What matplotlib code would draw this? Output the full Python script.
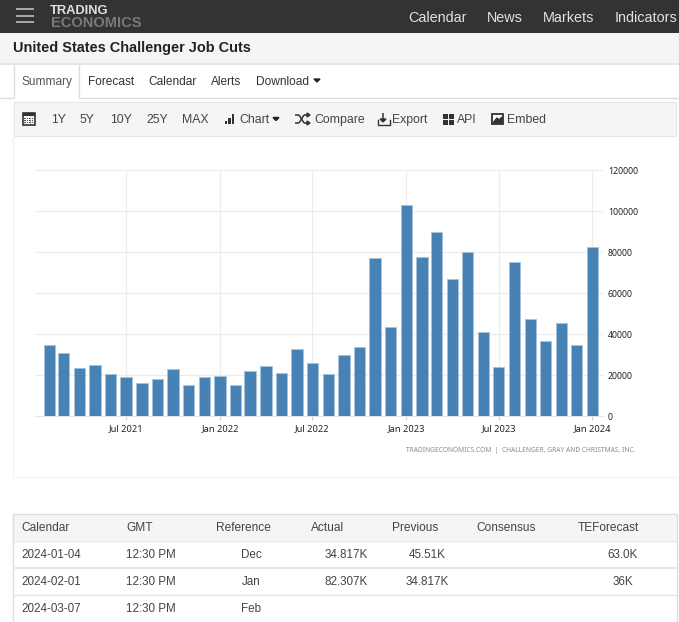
import matplotlib
matplotlib.use("Agg")
import pandas as pd
import matplotlib.dates as mdates
from matplotlib import pyplot as plt
from matplotlib.patches import Rectangle

months = pd.date_range("2021-02-01", "2024-01-01", freq="MS")
job_cuts = [34600, 30900, 23200, 24800, 20600, 19200, 16100, 18000, 22900, 14900,
            19200, 19500, 15300, 21800, 24300, 21100, 32800, 26000, 20600, 30000,
            33900, 77000, 43700, 103100, 77800, 89700, 67000, 80000, 41000, 24000,
            75200, 47400, 36800, 45500, 34817, 82307]
x_ticks = ["2021-07-01", "2022-01-01", "2022-07-01", "2023-01-01", "2023-07-01", "2024-01-01"]
x_labels = ["Jul 2021", "Jan 2022", "Jul 2022", "Jan 2023", "Jul 2023", "Jan 2024"]
y_ticks = [0, 20000, 40000, 60000, 80000, 100000, 120000]

table_head = ["Calendar", "GMT", "Reference", "Actual", "Previous", "Consensus", "TEForecast"]
table_rows = [
    ["2024-01-04", "12:30 PM", "Dec", "34.817K", "45.51K", "", "63.0K"],
    ["2024-02-01", "12:30 PM", "Jan", "82.307K", "34.817K", "", "36K"],
    ["2024-03-07", "12:30 PM", "Feb", "", "", "", ""],
]

W, H = 679, 622
SANS = "Liberation Sans"
TXT = "#333333"

fig = plt.figure(figsize=(W / 100, H / 100), dpi=100, facecolor="white")

# page furniture, drawn in pixel coordinates
page = fig.add_axes([0, 0, 1, 1])
page.set_xlim(0, W)
page.set_ylim(H, 0)
page.axis("off")


def box(x0, y0, x1, y1, fc, ec="none", lw=0):
    page.add_patch(Rectangle((x0, y0), x1 - x0, y1 - y0, facecolor=fc, edgecolor=ec, linewidth=lw))


def line(x0, y0, x1, y1, color="#dddddd", lw=1.0):
    page.plot([x0, x1], [y0, y1], color=color, lw=lw, solid_capstyle="butt")


def label(x, y, s, size=8.8, color=TXT, ha="left", weight="normal"):
    # centre alignment sits about a pixel high for this font
    page.text(x, y + 0.8, s, fontsize=size, color=color, ha=ha, va="center", family=SANS, fontweight=weight)


# top bar
box(0, 0, W, 33, "#333333")
for yy in (9, 15.5, 22):
    line(16, yy, 34, yy, "#cccccc", 1.1)
label(50, 10.2, "TRADING", 9.3, "#e0e0e0", weight="bold")
label(50.5, 21.8, "ECONOMICS", 10.5, "#7a7a7a", weight="bold")
for xx, s in [(408, "Calendar"), (487, "News"), (543, "Markets"), (615, "Indicators")]:
    label(xx, 17, s, 10.4, "#e2e2e2")

# title strip
box(0, 33, W, 63, "#f5f5f5")
box(0, 63, W, 65, "#e6e6e6")
label(13, 47.5, "United States Challenger Job Cuts", 10.45, "#222222", weight="bold")

# tabs
line(0, 98, 14, 98)
line(79, 98, W, 98)
line(14, 65, 14, 98)
line(79, 65, 79, 98)
label(22, 81, "Summary", 8.6, "#555555")
for xx, s in [(88, "Forecast"), (148, "Calendar"), (211, "Alerts"), (256, "Download")]:
    label(xx, 81, s, 8.6, "#333333")
page.fill([314, 320, 317], [79, 79, 82], color="#222222")

# toolbar
box(14, 102, 676, 136, "#f5f5f5", "#e6e6e6", 0.8)
for xx, s in [(51, "1Y"), (80, "5Y"), (110, "10Y"), (146, "25Y"), (182, "MAX"),
              (239, "Chart"), (314, "Compare"), (392, "Export"), (457, "API"), (507, "Embed")]:
    label(xx, 119, s, 8.8, "#444444")

# toolbar icons
box(22.5, 113, 34.5, 124.5, "#f5f5f5", "#333333", 1.2)
box(22.5, 113, 34.5, 116, "#333333")
for xx in (25, 27.5, 30, 32.5):
    for yy in (118.5, 120.5, 122.5):
        box(xx - 0.6, yy - 0.6, xx + 0.6, yy + 0.6, "#555555")
for xx, top in [(224.5, 121), (228, 118), (231.5, 114)]:
    box(xx, top, xx + 2.6, 124, "#333333")
page.fill([273, 279, 276], [117.5, 117.5, 120.5], color="#222222")
line(295, 115, 299, 115, "#333333", 1.1)
line(299, 115, 304, 123, "#333333", 1.1)
line(304, 123, 307, 123, "#333333", 1.1)
line(295, 123, 299, 123, "#333333", 1.1)
line(299, 123, 304, 115, "#333333", 1.1)
line(304, 115, 307, 115, "#333333", 1.1)
page.fill([307, 307, 310], [113, 117, 115], color="#333333")
page.fill([307, 307, 310], [121, 125, 123], color="#333333")
line(383, 113, 383, 120, "#333333", 1.1)
page.fill([380, 386, 383], [119, 119, 122], color="#333333")
page.plot([377.5, 377.5, 389.5, 389.5], [120, 124.5, 124.5, 120], color="#333333", lw=1.0)
for xx in (443, 449):
    for yy in (113.5, 119.5):
        box(xx, yy, xx + 5, yy + 5, "#333333")
box(491.5, 114, 503, 124, "#ffffff", "#333333", 1.3)
page.fill([493, 497, 499, 502, 502, 493], [123, 118, 120, 117, 123, 123], color="#333333")

# chart panel outline
line(13, 137, 13, 477, "#f2f2f2")
line(13, 477, 677, 477, "#f2f2f2")

# table
box(13, 514, 677, 540, "#f5f5f5")
line(13, 514, 677, 514)
line(13, 514, 13, H)
line(677, 514, 677, H)
line(13, 540.5, 677, 540.5, "#e6e6e6")
line(13, 568, 677, 568, "#e6e6e6", 1.4)
line(13, 595, 677, 595, "#e6e6e6")
head_x = [21, 126, 216, 311, 392, 476, 578]
for xx, s in zip(head_x, table_head):
    label(xx, 527, s, 8.6, "#444444")
row_x = [21, 126, 251, 346, 427, 0, 623]
row_ha = ["left", "left", "center", "center", "center", "center", "center"]
for yy, row in zip([554, 581, 608], table_rows):
    for xx, ha, s in zip(row_x, row_ha, row):
        if s:
            label(xx, yy, s, 8.4, "#444444", ha=ha)

# the chart itself, axes box given in pixels
ax_l, ax_r, ax_t, ax_b = 35, 603, 170.3, 416.0
ax = fig.add_axes([ax_l / W, 1 - ax_b / H, (ax_r - ax_l) / W, (ax_b - ax_t) / H])
ax.patch.set_alpha(0)
ax.bar(months, job_cuts, width=22, color="#4682b4", edgecolor="#a8c4dc", linewidth=0.6, zorder=3)
ax.set_xlim(mdates.date2num(pd.Timestamp("2021-07-01")) - 178.5,
            mdates.date2num(pd.Timestamp("2024-01-01")) + 20.6)
ax.set_ylim(0, 120000)
ax.set_xticks(pd.to_datetime(x_ticks))
ax.set_xticklabels(x_labels, family="Noto Sans")
ax.set_yticks(y_ticks)
ax.set_yticklabels([str(v) for v in y_ticks], family="Noto Sans")
ax.yaxis.tick_right()
ax.grid(True, color="#ececec", lw=0.9, zorder=0)
for s in ax.spines.values():
    s.set_visible(False)
ax.spines["bottom"].set_visible(True)
ax.spines["bottom"].set_color("#e4e4e4")
ax.tick_params(axis="x", length=3, color="#cccccc", labelsize=6.7, labelcolor="#222222", pad=3)
ax.tick_params(axis="y", length=0, labelsize=6.3, labelcolor="#222222", pad=3.5)

page.text(635, 451, "TRADINGECONOMICS.COM  |  CHALLENGER, GRAY AND CHRISTMAS, INC.", fontsize=4.8,
          color="#8a8a8a", ha="right", va="center", family="Noto Sans")

fig.savefig("out.png", dpi=100)
